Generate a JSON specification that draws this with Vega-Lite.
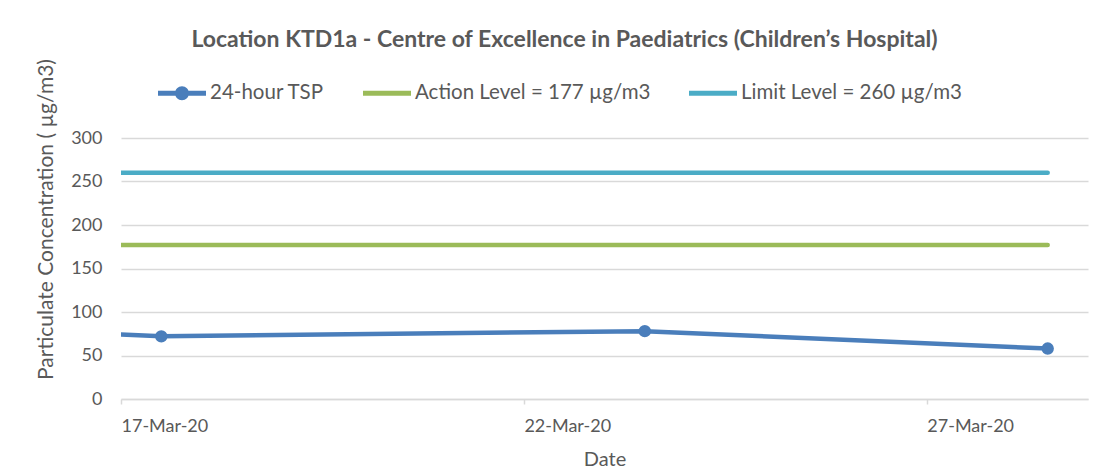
{
  "$schema": "https://vega.github.io/schema/vega-lite/v6.json",
  "autosize": "none",
  "padding": {"left": 121, "top": 138, "right": 18, "bottom": 73},
  "width": 967,
  "height": 261,
  "background": "white",
  "config": {
    "font": "Lato",
    "view": {"stroke": null},
    "title": {"font": "Lato", "fontSize": 23, "fontWeight": "bold", "color": "#595959"}
  },
  "title": {"text": "Location KTD1a - Centre of Excellence in Paediatrics (Children’s Hospital)", "anchor": "middle", "dx": -40, "dy": 12, "offset": 19},
  "data": {
    "values": [
      {"series": "24-hour TSP", "date": "2020-03-16T12:00:00", "value": 76},
      {"series": "24-hour TSP", "date": "2020-03-17T12:00:00", "value": 72},
      {"series": "24-hour TSP", "date": "2020-03-23T12:00:00", "value": 78},
      {"series": "24-hour TSP", "date": "2020-03-28T12:00:00", "value": 58},
      {"series": "Action Level = 177 µg/m3", "date": "2020-03-16T12:00:00", "value": 177},
      {"series": "Action Level = 177 µg/m3", "date": "2020-03-28T12:00:00", "value": 177},
      {"series": "Limit Level = 260 µg/m3", "date": "2020-03-16T12:00:00", "value": 260},
      {"series": "Limit Level = 260 µg/m3", "date": "2020-03-28T12:00:00", "value": 260}
    ]
  },
  "encoding": {
    "x": {
      "field": "date",
      "type": "temporal",
      "scale": {"domain": [{"year": 2020, "month": 3, "date": 17}, {"year": 2020, "month": 3, "date": 29}]},
      "axis": {
        "title": "Date",
        "format": "%d-%b-%y",
        "values": [{"year": 2020, "month": 3, "date": 17}, {"year": 2020, "month": 3, "date": 22}, {"year": 2020, "month": 3, "date": 27}],
        "grid": false,
        "domainColor": "#d9d9d9",
        "domainWidth": 1.5,
        "tickColor": "#d9d9d9",
        "tickWidth": 1.5,
        "tickSize": 5,
        "labelPadding": 13,
        "labelAlign": "left",
        "labelDx": -5,
        "labelFontSize": 18,
        "labelColor": "#595959",
        "labelFont": "Lato",
        "titleFont": "Lato",
        "titleFontSize": 20,
        "titleFontWeight": "normal",
        "titleColor": "#595959",
        "titlePadding": 14
      }
    },
    "y": {
      "field": "value",
      "type": "quantitative",
      "scale": {"domain": [0, 300]},
      "axis": {
        "title": "Particulate Concentration ( µg/m3)",
        "values": [0, 50, 100, 150, 200, 250, 300],
        "domain": false,
        "ticks": false,
        "tickSize": 0,
        "gridColor": "#d9d9d9",
        "gridWidth": 1.5,
        "labelPadding": 19,
        "labelFontSize": 18,
        "labelColor": "#595959",
        "labelFont": "Lato",
        "titleFont": "Lato",
        "titleFontSize": 21,
        "titleFontWeight": "normal",
        "titleColor": "#595959",
        "titleAngle": -90,
        "titleX": -75,
        "titleY": 81,
        "titleAlign": "center",
        "titleBaseline": "middle"
      }
    },
    "color": {
      "field": "series",
      "type": "nominal",
      "scale": {
        "domain": ["24-hour TSP", "Action Level = 177 µg/m3", "Limit Level = 260 µg/m3"],
        "range": ["#4a7ebb", "#9bbb59", "#4bacc6"]
      }
    }
  },
  "layer": [
    {
      "mark": {"type": "line", "strokeWidth": 4.5, "strokeCap": "round", "strokeJoin": "round", "clip": true},
      "encoding": {
        "color": {
          "field": "series",
          "type": "nominal",
          "legend": {
            "orient": "none",
            "legendX": 37,
            "legendY": -69,
            "direction": "horizontal",
            "columns": 3,
            "title": null,
            "padding": 0,
            "columnPadding": 38,
            "symbolSize": 2304,
            "labelOffset": 4,
            "labelFont": "Lato",
            "labelFontSize": 20.5,
            "labelColor": "#595959",
            "labelLimit": 400,
            "encode": {
              "symbols": {
                "update": {
                  "shape": {"signal": "datum.value === '24-hour TSP' ? 'M-1,-0.1L1,-0.1L1,0.1L-1,0.1Z M-0.29,0A0.29,0.29 0 1,1 0.29,0A0.29,0.29 0 1,1 -0.29,0Z' : 'M-1,-0.1L1,-0.1L1,0.1L-1,0.1Z'"},
                  "fill": {"scale": "color", "field": "value"},
                  "stroke": {"value": "transparent"},
                  "strokeWidth": {"value": 0},
                  "size": {"value": 2304},
                  "opacity": {"value": 1}
                }
              }
            }
          }
        }
      }
    },
    {
      "transform": [{"filter": "datum.series === '24-hour TSP' && datum.value !== 76"}],
      "mark": {"type": "point", "filled": true, "opacity": 1, "size": 154, "clip": true},
      "encoding": {}
    }
  ]
}
